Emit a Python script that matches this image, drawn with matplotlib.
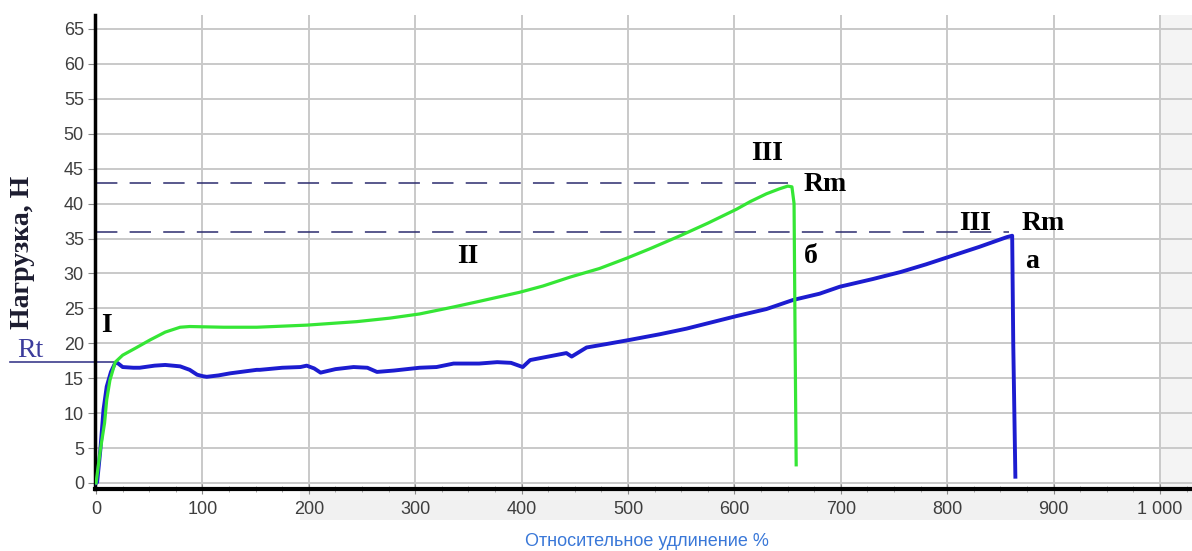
import numpy as np
import matplotlib
matplotlib.use("Agg")
import matplotlib.pyplot as plt
from matplotlib.patches import Rectangle

# values: elongation (%) and load (N)
blue_x = [0, 1, 4, 7, 10, 14, 18, 20, 25, 35, 41, 55, 65, 79, 88, 95, 100, 104, 115, 126,
          151, 154, 175, 192, 198, 205, 211, 225, 242, 255, 264, 280, 304, 320, 336, 360,
          377, 390, 401, 408, 425, 442, 447, 461, 480, 502, 530, 555, 568, 602, 630, 655,
          680, 699, 730, 756, 780, 806, 830, 856, 861, 862, 864]
blue_y = [0, 0.1, 4.7, 10.5, 13.8, 15.9, 17.2, 17.2, 16.6, 16.5, 16.5, 16.8, 16.9, 16.7, 16.2,
          15.5, 15.3, 15.2, 15.4, 15.7, 16.2, 16.2, 16.5, 16.6, 16.8, 16.4, 15.8, 16.3, 16.6,
          16.5, 15.9, 16.1, 16.5, 16.6, 17.1, 17.1, 17.3, 17.2, 16.6, 17.6, 18.1, 18.6, 18.1,
          19.4, 19.9, 20.5, 21.3, 22.1, 22.6, 23.9, 24.9, 26.2, 27.1, 28.1, 29.2, 30.2, 31.3,
          32.6, 33.8, 35.2, 35.4, 20.0, 0.9]

green_x = [0, 4, 8, 10, 13, 18, 25, 37, 51, 65, 79, 88, 120, 151, 198, 245, 276, 304, 320,
           336, 360, 398, 420, 446, 473, 499, 520, 549, 575, 602, 615, 630, 642, 650, 654,
           656, 657, 658]
green_y = [0, 4.7, 8.6, 11.9, 14.7, 17.3, 18.3, 19.3, 20.5, 21.6, 22.3, 22.4, 22.3, 22.3,
           22.6, 23.1, 23.6, 24.2, 24.7, 25.2, 26.0, 27.3, 28.2, 29.5, 30.7, 32.2, 33.5,
           35.4, 37.2, 39.2, 40.3, 41.4, 42.1, 42.5, 42.4, 40.0, 20.0, 2.6]

rm_a = 35.9     # lower dashed level
rm_b = 42.9     # upper dashed level
rt = 17.3

x_ticks = [0, 100, 200, 300, 400, 500, 600, 700, 800, 900, 1000]
x_labels = ["0", "100", "200", "300", "400", "500", "600", "700", "800", "900", "1 000"]
y_ticks = list(range(0, 70, 5))

fig = plt.figure(figsize=(11.92, 5.51), dpi=100)
ax = fig.add_axes([95 / 1192, 62 / 551, 1 - 95 / 1192, (489 - 15) / 551])

# light grey bands seen in the screenshot
fig.patches.append(Rectangle((300 / 1192, 31 / 551), 1, 30 / 551, transform=fig.transFigure,
                             facecolor="#f1f1f1", edgecolor="none", zorder=-5))
ax.axvspan(1000, 1030, color="#f4f4f4", zorder=0)

ax.set_xlim(-1, 1030)
ax.set_ylim(-0.86, 67)

ax.set_xticks(x_ticks)
ax.set_xticklabels(x_labels)
ax.set_xticks(np.arange(0, 1030, 25), minor=True)
ax.set_yticks(y_ticks)
ax.grid(True, which="major", color="#c9c9c9", linewidth=1.4, zorder=1)
ax.tick_params(axis="both", which="major", labelsize=13, labelcolor="#3e3e3e", color="#888888")
ax.tick_params(axis="x", which="major", direction="inout", length=7, pad=5)
ax.tick_params(axis="x", which="minor", direction="inout", length=4, color="#999999")
ax.tick_params(axis="y", which="major", direction="out", length=5, pad=3)
for lab in ax.get_xticklabels() + ax.get_yticklabels():
    lab.set_fontfamily("Liberation Sans")

for s in ["top", "right"]:
    ax.spines[s].set_visible(False)
ax.spines["left"].set_linewidth(2.5)
ax.spines["bottom"].set_linewidth(3)

# curves
ax.plot(green_x, green_y, color="#35e635", linewidth=2.3, zorder=4)
ax.plot(blue_x, blue_y, color="#1c1cd0", linewidth=2.8, zorder=3)

# dashed levels and Rt line
dash_col = "#2b2b6e"
ax.plot([0, 650], [rm_b, rm_b], color=dash_col, linewidth=1.1, dashes=(14, 8), zorder=2)
ax.plot([0, 858], [rm_a, rm_a], color=dash_col, linewidth=1.1, dashes=(14, 8), zorder=2)
ax.plot([-81, 17], [rt, rt], color="#3c3c8c", linewidth=1.2, clip_on=False, zorder=2)

# annotations
serif = "Liberation Serif"
fs = 20
ax.text(10, 22.5, "I", fontsize=fs, fontweight="bold", family=serif, ha="center", va="center")
ax.text(349, 32.4, "II", fontsize=fs, fontweight="bold", family=serif, ha="center", va="center")
ax.text(631, 47.2, "III", fontsize=fs, fontweight="bold", family=serif, ha="center", va="center")
ax.text(665, 42.7, "Rm", fontsize=fs, fontweight="bold", family=serif, ha="left", va="center")
ax.text(665, 32.4, "б", fontsize=fs, fontweight="bold", family=serif, ha="left", va="center")
ax.text(826, 37.2, "III", fontsize=fs, fontweight="bold", family=serif, ha="center", va="center")
ax.text(870, 37.2, "Rm", fontsize=fs, fontweight="bold", family=serif, ha="left", va="center")
ax.text(873, 31.7, "a", fontsize=fs, fontweight="bold", family=serif, ha="left", va="center")
ax.text(-62, 19.0, "Rt", fontsize=20, family=serif, color="#3c3c9c", ha="center", va="center",
        clip_on=False)

ax.set_ylabel("Нагрузка, Н", fontsize=20, fontweight="bold", family=serif, color="#1c1c30")
ax.yaxis.set_label_coords(-0.055, 0.5)
ax.set_xlabel("Относительное удлинение %", fontsize=13, color="#3a78d8",
              family="Liberation Sans")
ax.xaxis.set_label_coords(0.503, -0.093)

fig.savefig("out.png", dpi=100)
